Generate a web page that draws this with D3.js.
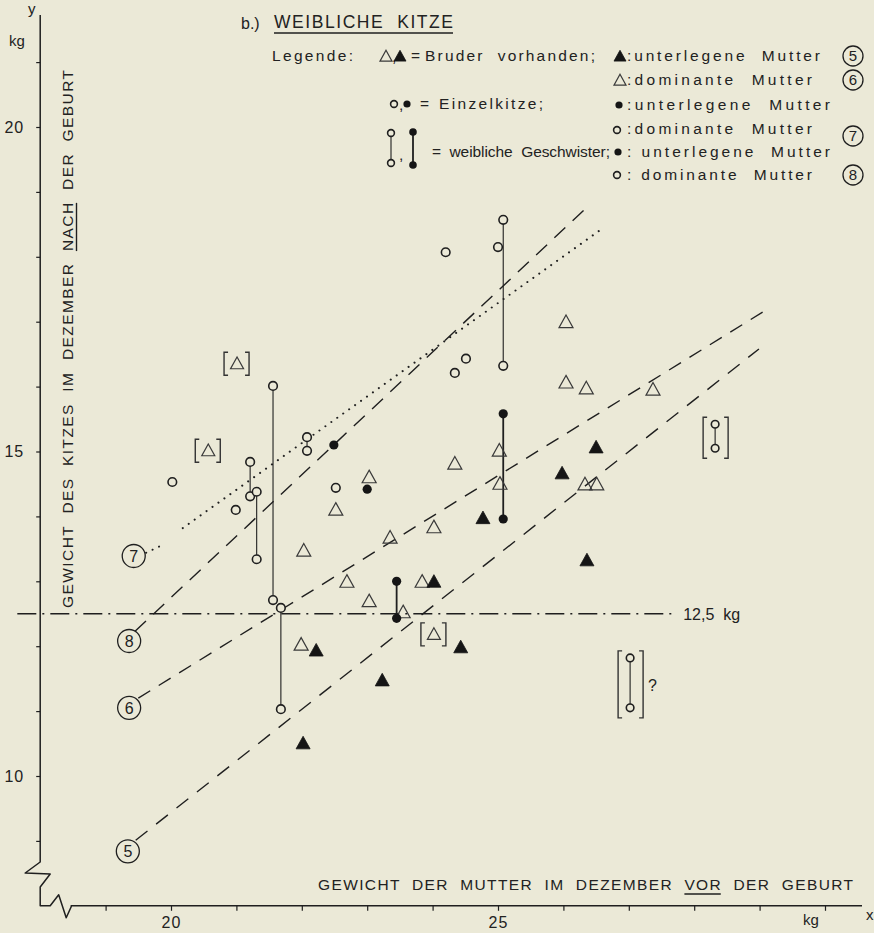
<!DOCTYPE html>
<html><head><meta charset="utf-8">
<script src="https://cdn.jsdelivr.net/npm/d3@7/dist/d3.min.js"></script>
<style>
body{margin:0;background:#ebe9d7;}
svg{display:block;}
text{font-family:"Liberation Sans",Arial,sans-serif;fill:#222;white-space:pre;}
</style></head><body>
<svg id="c" width="874" height="933"></svg>
<script>
// ---------------- DATA ----------------
const xTicks = [19,20,21,22,23,24,25,26,27,28,29,30];
const xTickLabels = [20,25];
const yTicks = [9,10,11,12,13,14,15,16,17,18,19,20,21];
const yTickLabels = [10,15,20];
const threshold = 12.5;
const thresholdSpan = [17.65, 27.71];
const thresholdLabel = "12,5  kg";

// Einzelkitze
const openCircles = [[20.02,14.53],[20.99,14.10],[22.52,14.44],[24.20,18.07],[24.34,16.21],[24.51,16.43],[25.00,18.15]];
const filledCircles = [[22.49,15.10],[23.00,14.42]];
// weibliche Geschwister: [x, y1, y2]
const openSiblings = [[21.21,14.84,14.31],[21.31,14.38,13.34],[21.56,16.01,12.71],[21.68,12.59,11.03],[22.08,15.22,15.01],[25.08,18.57,16.32]];
const filledSiblings = [[25.08,15.58,13.96],[23.45,13.00,12.43]];
const bracketSiblings = [[28.32,15.42,15.05],[27.02,11.82,11.05]];
const bracketSiblingNote = ["", "?"];
// Bruder vorhanden
const openTriangles = [[23.03,14.61],[22.52,14.11],[22.03,13.48],[23.35,13.68],[22.69,13.00],[23.03,12.70],[23.55,12.53],[23.84,13.00],[24.34,14.82],[24.02,13.84],[25.02,15.02],[25.03,14.51],[26.04,16.07],[26.35,15.98],[26.33,14.50],[26.51,14.50],[27.37,15.96],[21.99,12.03],[26.04,17.00]];
const filledTriangles = [[26.50,15.07],[25.98,14.67],[24.77,13.98],[26.36,13.33],[24.02,13.00],[24.43,11.99],[22.22,11.94],[23.23,11.48],[22.02,10.51]];
const bracketTriangles = [[21.01,16.36],[20.57,15.02],[24.02,12.19]];

// Regression lines (start/end in data units) and their number labels
const lineIds = ["5","6","8","7"];
const lineStarts = [[19.46,9.01],[19.50,11.20],[19.45,12.23],[20.18,13.82]];
const lineEnds = [[28.99,16.58],[29.05,17.15],[26.41,18.81],[26.56,18.41]];
const lineTail7 = [[19.62,13.44],[19.83,13.54]];
const lineLabels = [[19.34,8.84],[19.36,11.05],[19.36,12.08],[19.43,13.39]];

const title = "WEIBLICHE  KITZE";
const xTitle = "GEWICHT  DER  MUTTER  IM  DEZEMBER  VOR  DER  GEBURT";
const yTitle = "GEWICHT  DES  KITZES  IM  DEZEMBER  NACH  DER  GEBURT";

// ---------------- CHART ----------------
const ink = "#1f1f1f";
const bg = "#ebe9d7";
const svg = d3.select("#c");
svg.append("rect").attr("width",874).attr("height",933).attr("fill",bg);

const x = d3.scaleLinear().domain([20,25]).range([171,498]);
const y = d3.scaleLinear().domain([20,10]).range([127,776]);
const ax = x(18), ay = y(8);

// axes
const gx = svg.append("g").attr("transform",`translate(0,${ay})`)
  .call(d3.axisBottom(x).tickValues(xTicks).tickSize(5).tickPadding(6)
    .tickFormat(d => xTickLabels.includes(d) ? d : ""));
gx.select(".domain").remove();
gx.selectAll("line").attr("stroke",ink).attr("stroke-width",1.2);
gx.selectAll("text").attr("font-size",16).attr("fill",ink).attr("font-family","Liberation Sans, Arial").attr("letter-spacing",1);

const gy = svg.append("g").attr("transform",`translate(${ax},0)`)
  .call(d3.axisLeft(y).tickValues(yTicks).tickSize(4).tickPadding(12)
    .tickFormat(d => yTickLabels.includes(d) ? d : ""));
gy.select(".domain").remove();
gy.selectAll("line").attr("stroke",ink).attr("stroke-width",1.2);
gy.selectAll("text").attr("font-size",16).attr("fill",ink).attr("font-family","Liberation Sans, Arial").attr("letter-spacing",1);

// axis lines with breaks
svg.append("path")
  .attr("d",`M${ax},15 V862 L${ax-15},873 L${ax+10},874 L${ax},887 V${ay} H${ax+10} L${ax+18.5},${ay-11} L${ax+26},${ay+12} L${ax+31},${ay+1} L${ax+31},${ay} H862`)
  .attr("fill","none").attr("stroke",ink).attr("stroke-width",1.5).attr("stroke-linejoin","round");

// axis letters
function txt(str, px, py, size, anchor){
  return svg.append("text").attr("x",px).attr("y",py).attr("font-size",size)
    .attr("text-anchor",anchor||"start").text(str);
}
txt("y", 28, 14, 15);
txt("kg", 9, 46, 15);
txt("x", 866, 920, 15);
txt("kg", 803, 925, 15);

// threshold line
svg.append("line").attr("x1",x(thresholdSpan[0])).attr("x2",x(thresholdSpan[1]))
  .attr("y1",y(threshold)).attr("y2",y(threshold))
  .attr("stroke",ink).attr("stroke-width",1.3).attr("stroke-dasharray","19,6,2,6");
txt(thresholdLabel, x(thresholdSpan[1])+8, y(threshold)+6, 16);

// regression lines
const dashStyles = {"5":"15,11","6":"14,10","8":"15,10","7":"0.1,7.2"};
lineIds.forEach((id,i)=>{
  const l = svg.append("line")
    .attr("x1",x(lineStarts[i][0])).attr("y1",y(lineStarts[i][1]))
    .attr("x2",x(lineEnds[i][0])).attr("y2",y(lineEnds[i][1]))
    .attr("stroke",ink).attr("stroke-dasharray",dashStyles[id]);
  if(id==="7") l.attr("stroke-width",2).attr("stroke-linecap","round");
  else l.attr("stroke-width",1.4);
});
svg.append("line")
  .attr("x1",x(lineTail7[0][0])).attr("y1",y(lineTail7[0][1]))
  .attr("x2",x(lineTail7[1][0])).attr("y2",y(lineTail7[1][1]))
  .attr("stroke",ink).attr("stroke-width",2).attr("stroke-linecap","round").attr("stroke-dasharray","0.1,7");

function circled(cx, cy, r, label, size){
  svg.append("circle").attr("cx",cx).attr("cy",cy).attr("r",r)
    .attr("fill",bg).attr("stroke",ink).attr("stroke-width",1.3);
  svg.append("text").attr("x",cx).attr("y",cy+size*0.36).attr("font-size",size)
    .attr("text-anchor","middle").text(label);
}
lineIds.forEach((id,i)=> circled(x(lineLabels[i][0]), y(lineLabels[i][1]), 11.5, id, 16));

// marks
const triPath = (cx,cy,s) => `M${cx},${cy-s*0.95} L${cx+s},${cy+s*0.85} L${cx-s},${cy+s*0.85} Z`;
function openTri(cx,cy,s){ svg.append("path").attr("d",triPath(cx,cy,s||7)).attr("fill","none").attr("stroke","#3a3a3a").attr("stroke-width",1.2).attr("stroke-linejoin","miter"); }
function fillTri(cx,cy,s){ svg.append("path").attr("d",triPath(cx,cy,s||7)).attr("fill","#151515").attr("stroke","#151515").attr("stroke-width",0.8); }
function openDot(cx,cy,r){ svg.append("circle").attr("cx",cx).attr("cy",cy).attr("r",r||4.3).attr("fill",bg).attr("stroke",ink).attr("stroke-width",1.6); }
function fillDot(cx,cy,r){ svg.append("circle").attr("cx",cx).attr("cy",cy).attr("r",r||4.6).attr("fill","#151515"); }
function bracket(x0,x1,y0,y1){
  const s=4;
  svg.append("path").attr("d",`M${x0+s},${y0} H${x0} V${y1} H${x0+s} M${x1-s},${y0} H${x1} V${y1} H${x1-s}`)
    .attr("fill","none").attr("stroke","#333").attr("stroke-width",1.4);
}

openSiblings.forEach(d=>{
  svg.append("line").attr("x1",x(d[0])).attr("x2",x(d[0])).attr("y1",y(d[1])).attr("y2",y(d[2]))
    .attr("stroke",ink).attr("stroke-width",1.1);
});
filledSiblings.forEach(d=>{
  svg.append("line").attr("x1",x(d[0])).attr("x2",x(d[0])).attr("y1",y(d[1])).attr("y2",y(d[2]))
    .attr("stroke",ink).attr("stroke-width",1.8);
});
bracketSiblings.forEach((d,i)=>{
  const cx=x(d[0]), y1=y(d[1]), y2=y(d[2]);
  svg.append("line").attr("x1",cx).attr("x2",cx).attr("y1",y1).attr("y2",y2).attr("stroke",ink).attr("stroke-width",1.1);
  bracket(cx-12, cx+13, y1-7, y2+10);
  openDot(cx,y1,3.8); openDot(cx,y2,3.8);
  if(bracketSiblingNote[i]) txt(bracketSiblingNote[i], cx+18, (y1+y2)/2+8, 16);
});

openTriangles.forEach(d=>openTri(x(d[0]),y(d[1])));
filledTriangles.forEach(d=>fillTri(x(d[0]),y(d[1])));
bracketTriangles.forEach(d=>{
  const cx=x(d[0]), cy=y(d[1]);
  bracket(cx-13, cx+12, cy-11, cy+12);
  openTri(cx,cy,6.5);
});
openSiblings.forEach(d=>{ openDot(x(d[0]),y(d[1])); openDot(x(d[0]),y(d[2])); });
filledSiblings.forEach(d=>{ fillDot(x(d[0]),y(d[1])); fillDot(x(d[0]),y(d[2])); });
openCircles.forEach(d=>openDot(x(d[0]),y(d[1])));
filledCircles.forEach(d=>fillDot(x(d[0]),y(d[1])));

// ---------------- TEXTS ----------------
function fitText(parent, str, px, py, len, size, extra){
  const t = parent.append("text").attr("x",px).attr("y",py).attr("font-size",size)
    .attr("textLength",len).attr("lengthAdjust","spacing").text(str);
  if(extra) extra(t);
  return t;
}
// title
txt("b.)", 241, 29, 16);
const tt = fitText(svg, title, 274, 28, 179, 17.5);
svg.append("line").attr("x1",274).attr("x2",453).attr("y1",33).attr("y2",33).attr("stroke",ink).attr("stroke-width",1.6);

// legend
const L = svg.append("g");
const fs = 15.5;
fitText(L,"Legende:",272,61,81,fs);
openTri(386,56,6); txt(",",392,62,fs); fillTri(400,56,6);
txt("=",411,61,fs);
fitText(L,"Bruder  vorhanden;",425,61,170,fs);
fillTri(620,56,6); fitText(L,":unterlegene  Mutter",627,61,193,fs);
circled(853,56,10,"5",15);

openTri(620,80,6); fitText(L,":dominante  Mutter",627,85,185,fs);
circled(853,80,10,"6",15);

openDot(394,104,3.4); txt(",",399,110,fs); fillDot(407,104,3.6);
txt("=",420,109,fs);
fitText(L,"Einzelkitze;",439,109,104,fs);
fillDot(619,105,3.6); fitText(L,":unterlegene  Mutter",627,110,203,fs);

openDot(617,130,3.4); fitText(L,":dominante  Mutter",627,134,185,fs);
circled(853,136,10,"7",15);

// sibling legend icons
svg.append("line").attr("x1",391).attr("x2",391).attr("y1",133).attr("y2",163).attr("stroke",ink).attr("stroke-width",1.1);
openDot(391,133,3.4); openDot(391,163,3.4);
txt(",",399,160,fs);
svg.append("line").attr("x1",413).attr("x2",413).attr("y1",132).attr("y2",165).attr("stroke",ink).attr("stroke-width",1.8);
fillDot(413,132,3.8); fillDot(413,165,3.8);
fitText(L,"=  weibliche  Geschwister;",432,157,178,fs);
fillDot(618,152,3.6); fitText(L,": unterlegene  Mutter",627,157,203,fs);

openDot(617,175,3.4); fitText(L,": dominante  Mutter",627,180,185,fs);
circled(853,175,10,"8",15);

// x title with underlined "VOR"
const xt = fitText(svg, xTitle, 318, 890, 535, 15.5);
(function(){
  const n = xt.node(); const i = xTitle.indexOf("VOR");
  const a = n.getStartPositionOfChar(i).x, b = n.getEndPositionOfChar(i+2).x;
  svg.append("line").attr("x1",a).attr("x2",b).attr("y1",894).attr("y2",894).attr("stroke",ink).attr("stroke-width",1.4);
})();

// y title, rotated, with underlined "NACH"
const gyT = svg.append("g").attr("transform","translate(73,608) rotate(-90)");
const ytN = fitText(gyT, yTitle, 0, 0, 538, 15.5);
(function(){
  const n = ytN.node(); const i = yTitle.indexOf("NACH");
  const a = n.getStartPositionOfChar(i).x, b = n.getEndPositionOfChar(i+3).x;
  gyT.append("line").attr("x1",a).attr("x2",b).attr("y1",3.5).attr("y2",3.5).attr("stroke",ink).attr("stroke-width",1.4);
})();
</script>
</body></html>
